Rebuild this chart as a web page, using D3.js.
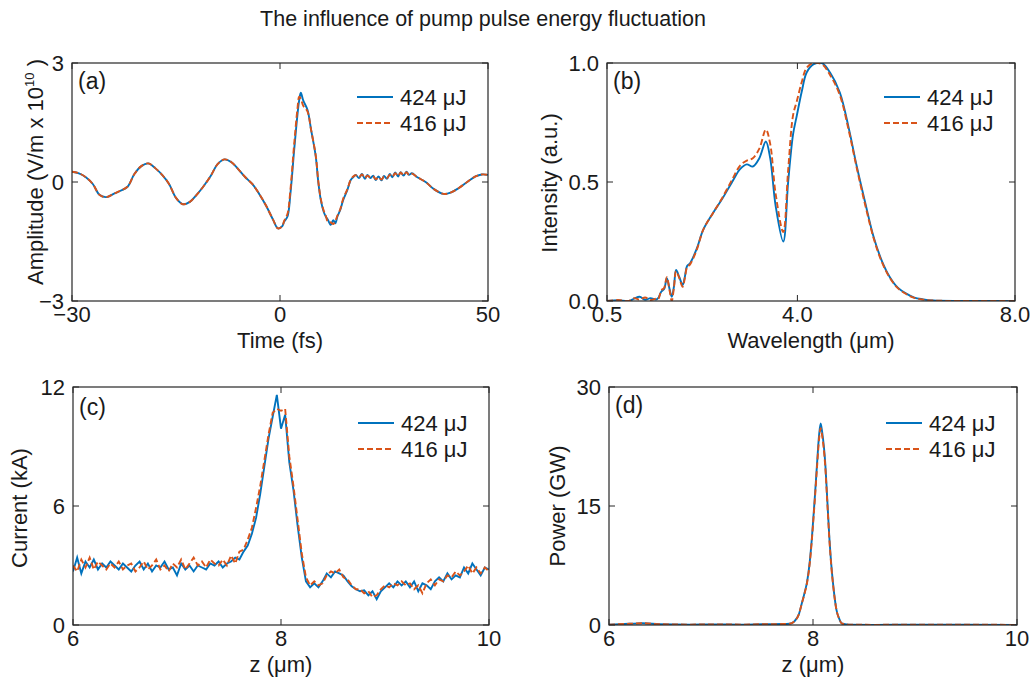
<!DOCTYPE html>
<html>
<head>
<meta charset="utf-8">
<script src="https://cdn.jsdelivr.net/npm/d3@7"></script>
<style>
  body { margin: 0; background: #fff; }
  svg text { font-family: "Liberation Sans", Arial, sans-serif; fill: #1a1a1a; }
</style>
</head>
<body>
<div id="chart"></div>
<script>
// ---- data ----
const seriesNames = ["424 μJ", "416 μJ"];

// (a) electric field
const timeA = [-30, -29, -28, -27, -26, -25, -24, -23, -22, -21, -20, -19, -18, -17, -16, -15, -14, -13, -12, -11,
  -10, -9, -8, -7, -6, -5, -4, -3, -2, -1, -0.3, 0.5, 1, 1.8, 2.5, 3.4, 4.2, 4.6, 5.0, 5.6, 6.6, 7.5, 8.6, 9.2, 9.8,
  10.5, 11.0, 11.5, 12.2, 12.8, 13.3, 13.8, 14.5, 15.2, 16.2, 17.0, 17.6, 18.2, 19, 19.7, 20.4, 21, 21.7, 22.4, 23,
  23.7, 24.4, 25, 25.7, 26.4, 27, 27.7, 28.4, 29, 29.7, 30.4, 31, 31.7, 33, 35, 37, 39.3, 41, 43, 45, 47, 48.5, 50];
const ampA424 = [0.26, 0.22, 0.12, -0.05, -0.33, -0.38, -0.3, -0.22, -0.12, 0.2, 0.4, 0.47, 0.35, 0.18, -0.05, -0.4, -0.56, -0.5, -0.32, -0.1,
  0.15, 0.45, 0.57, 0.5, 0.32, 0.12, -0.05, -0.3, -0.6, -0.95, -1.17, -1.12, -1.0, -0.87, -0.3, 0.8, 1.7, 2.05, 2.25, 2.05, 1.82, 1.3, 0.64, 0.0, -0.45,
  -0.75, -0.87, -0.95, -1.08, -0.96, -1.04, -0.87, -0.7, -0.45, -0.2, 0.05, 0.12, 0.18, 0.1, 0.2, 0.08, 0.18, 0.1, 0.16, 0.05,
  0.14, 0.04, 0.15, 0.08, 0.2, 0.12, 0.24, 0.14, 0.25, 0.16, 0.26, 0.18, 0.22, 0.12, 0.0, -0.18, -0.3, -0.27, -0.15, 0.0, 0.14, 0.19, 0.18];
const ampA416 = [0.26, 0.22, 0.12, -0.05, -0.33, -0.38, -0.3, -0.22, -0.12, 0.2, 0.4, 0.47, 0.35, 0.18, -0.05, -0.4, -0.56, -0.5, -0.32, -0.1,
  0.15, 0.45, 0.57, 0.5, 0.32, 0.12, -0.05, -0.3, -0.6, -0.95, -1.17, -1.12, -0.98, -0.8, -0.2, 0.95, 1.85, 2.15, 2.1, 1.92, 1.78, 1.3, 0.66, 0.02, -0.42,
  -0.72, -0.85, -1.0, -1.02, -1.06, -0.98, -0.85, -0.68, -0.42, -0.18, 0.06, 0.14, 0.17, 0.12, 0.19, 0.1, 0.16, 0.12, 0.14, 0.07,
  0.12, 0.06, 0.14, 0.1, 0.18, 0.13, 0.22, 0.15, 0.24, 0.17, 0.25, 0.18, 0.21, 0.12, 0.0, -0.18, -0.3, -0.27, -0.15, 0.0, 0.14, 0.19, 0.18];

// (b) spectrum
const lambdaB = [0.5, 0.7, 0.9, 1.0, 1.1, 1.2, 1.3, 1.4, 1.44, 1.5, 1.55, 1.6, 1.65, 1.69, 1.73, 1.77, 1.83, 1.89, 1.93, 1.97,
  2.03, 2.15, 2.27, 2.45, 2.61, 2.8, 2.95, 3.07, 3.18, 3.3, 3.42, 3.5, 3.6, 3.74, 3.83, 3.92, 3.99, 4.08, 4.17, 4.3,
  4.45, 4.6, 4.78, 4.95, 5.09, 5.25, 5.4, 5.55, 5.7, 5.85, 6.01, 6.15, 6.31, 6.5, 7.0, 8.0];
const intB424 = [0, 0.003, 0.0, 0.01, 0.018, 0.005, 0.012, 0.006, 0.012, 0.04, 0.05, 0.096, 0.05, 0.018, 0.06, 0.13, 0.1, 0.067, 0.1, 0.146,
  0.16, 0.22, 0.3, 0.37, 0.426, 0.5, 0.555, 0.574, 0.565, 0.6, 0.67, 0.6, 0.4, 0.25, 0.5, 0.7, 0.78, 0.88, 0.96, 0.995,
  1.0, 0.96, 0.876, 0.72, 0.567, 0.41, 0.27, 0.17, 0.1, 0.055, 0.03, 0.014, 0.007, 0.002, 0.0, 0.0];
const intB416 = [0, 0.004, 0.0, 0.012, 0.006, 0.015, 0.004, 0.01, 0.008, 0.045, 0.055, 0.1, 0.045, 0.0, 0.055, 0.125, 0.095, 0.06, 0.095, 0.14,
  0.155, 0.215, 0.3, 0.37, 0.43, 0.51, 0.57, 0.59, 0.6, 0.64, 0.72, 0.66, 0.45, 0.29, 0.55, 0.78, 0.84, 0.92, 0.98, 1.0,
  0.995, 0.95, 0.865, 0.71, 0.56, 0.4, 0.265, 0.165, 0.097, 0.053, 0.028, 0.013, 0.006, 0.002, 0.0, 0.0];

// (c) current, z from 6 to 10 in steps of 0.04
const zC = d3.range(101).map(i => +(6 + i * 0.04).toFixed(2));
const curC424 = [2.7, 3.4, 2.6, 3.2, 2.9, 3.3, 2.8, 3.1, 2.9, 3.2, 3.0, 2.8, 3.1, 2.9, 2.7, 3.0, 3.2, 2.8, 3.1, 2.7,
  3.0, 2.9, 3.2, 2.8, 2.9, 2.5, 3.1, 2.8, 3.0, 2.7, 3.0, 2.9, 2.8, 3.1, 3.0, 3.2, 2.9, 3.1, 3.2, 3.4,
  3.3, 3.7, 4.0, 4.6, 5.4, 6.6, 8.0, 9.4, 10.5, 11.6, 9.9, 10.6, 8.2, 6.8, 5.0, 3.4, 2.2, 1.9, 2.1, 1.9,
  2.2, 2.6, 2.4, 2.7, 2.6, 2.5, 2.2, 1.95, 1.8, 1.7, 1.75, 1.5, 1.7, 1.3, 1.7, 1.9, 2.1, 1.9, 2.2, 2.0,
  2.2, 1.9, 2.2, 1.7, 2.1, 2.0, 1.8, 2.2, 2.4, 2.2, 2.6, 2.3, 2.5, 2.4, 2.9, 2.6, 3.1, 2.8, 2.5, 2.9, 2.8];
const curC416 = [3.0, 2.7, 3.3, 2.9, 3.4, 2.8, 3.2, 3.0, 2.8, 3.1, 2.9, 3.2, 2.8, 3.0, 3.1, 2.7, 2.9, 3.2, 2.8, 3.0,
  3.3, 2.8, 3.0, 2.7, 3.1, 2.9, 3.3, 2.8, 3.1, 3.4, 3.0, 3.2, 2.9, 3.3, 3.1, 3.0, 3.3, 3.0, 3.5, 3.1,
  3.7, 3.8, 4.3, 4.9, 5.9, 7.0, 8.3, 9.6, 10.7, 10.9, 10.8, 10.9, 8.5, 7.0, 5.3, 3.6, 2.4, 2.0, 2.2, 2.0,
  2.1, 2.5, 2.7, 2.6, 2.8, 2.4, 2.3, 2.0, 1.8, 1.8, 1.6, 1.7, 1.4, 1.5, 1.8, 2.0, 1.9, 2.1, 2.0, 2.2,
  2.0, 2.1, 1.8, 2.0, 1.6, 2.1, 2.3, 2.0, 2.3, 2.2, 2.5, 2.4, 2.7, 2.5, 2.7, 3.0, 2.6, 2.9, 2.6, 2.9, 2.7];

// (d) power
const zD = [6.0, 6.2, 6.33, 6.5, 6.8, 7.0, 7.3, 7.5, 7.7, 7.77, 7.82, 7.86, 7.89, 7.92, 7.94, 7.97, 7.99, 8.02, 8.04, 8.06,
  8.075, 8.09, 8.12, 8.14, 8.16, 8.18, 8.2, 8.23, 8.26, 8.28, 8.35, 8.6, 9.0, 9.5, 10.0];
const powD424 = [0.05, 0.15, 0.22, 0.1, 0.05, 0.08, 0.05, 0.1, 0.12, 0.15, 0.5, 1.3, 2.7, 4.2, 5.3, 8.2, 11.1, 16.5, 20.4, 24.0,
  25.4, 24.3, 20.4, 15.8, 11.1, 7.5, 4.8, 1.9, 0.7, 0.2, 0.05, 0.02, 0.05, 0.03, 0.02];
const powD416 = [0.05, 0.15, 0.22, 0.1, 0.05, 0.08, 0.05, 0.1, 0.12, 0.15, 0.5, 1.3, 2.7, 4.1, 5.2, 8.0, 10.9, 16.2, 20.0, 23.5,
  24.8, 23.8, 20.0, 15.5, 10.9, 7.3, 4.7, 1.9, 0.7, 0.2, 0.05, 0.02, 0.05, 0.03, 0.02];

const colors = ["#0072BD", "#D95319"];

// ---- layout ----
const W = 1036, H = 679;
const FS = "22px";
const svg = d3.select("#chart").append("svg")
  .attr("width", W).attr("height", H);

svg.append("text")
  .attr("x", 483).attr("y", 26)
  .attr("text-anchor", "middle")
  .style("font-size", "21.5px")
  .text("The influence of pump pulse energy fluctuation");

const panels = [
  { id: "a", left: 72, top: 63, w: 416, h: 238, x: timeA, ys: [ampA424, ampA416],
    xDomain: [-30, 0, 50], xTicks: [-30, 0, 50], yDomain: [-3, 3], yTicks: [-3, 0, 3],
    xFmt: d3.format("d"), yFmt: d3.format("d"), curve: d3.curveCatmullRom,
    xLabel: "Time (fs)", ylabX: 43, ylabY: 172, legendY: 97, tag: "(a)", tagY: 89 },
  { id: "b", left: 607, top: 63, w: 408, h: 238, x: lambdaB, ys: [intB424, intB416],
    xDomain: [0.5, 8.0], xTicks: [0.5, 4.0, 8.0], yDomain: [0, 1], yTicks: [0, 0.5, 1],
    xFmt: d3.format(".1f"), yFmt: d3.format(".1f"), curve: d3.curveCatmullRom,
    xLabel: "Wavelength (μm)", yLabel: "Intensity (a.u.)", ylabX: 557, ylabY: 183, legendY: 97, tag: "(b)", tagY: 89 },
  { id: "c", left: 73, top: 387, w: 416, h: 238, x: zC, ys: [curC424, curC416],
    xDomain: [6, 10], xTicks: [6, 8, 10], yDomain: [0, 12], yTicks: [0, 6, 12],
    xFmt: d3.format("d"), yFmt: d3.format("d"), curve: d3.curveLinear,
    xLabel: "z (μm)", yLabel: "Current (kA)", ylabX: 27, ylabY: 508, legendY: 423, tag: "(c)", tagY: 415 },
  { id: "d", left: 609, top: 387, w: 408, h: 238, x: zD, ys: [powD424, powD416],
    xDomain: [6, 10], xTicks: [6, 8, 10], yDomain: [0, 30], yTicks: [0, 15, 30],
    xFmt: d3.format("d"), yFmt: d3.format("d"), curve: d3.curveMonotoneX,
    xLabel: "z (μm)", yLabel: "Power (GW)", ylabX: 565, ylabY: 506, legendY: 423, tag: "(d)", tagY: 413 }
];

panels.forEach(p => {
  const g = svg.append("g").attr("transform", `translate(${p.left},${p.top})`);

  const xScale = d3.scaleLinear().domain(p.xDomain)
    .range(p.xDomain.length === 3 ? [0, p.w / 2, p.w] : [0, p.w]);
  const yScale = d3.scaleLinear().domain(p.yDomain).range([p.h, 0]);

  g.append("clipPath").attr("id", "clip-" + p.id)
    .append("rect").attr("width", p.w).attr("height", p.h);

  // lines
  const line = d3.line()
    .x((d, i) => xScale(p.x[i]))
    .y(d => yScale(d))
    .curve(p.curve);

  p.ys.forEach((vals, k) => {
    g.append("path")
      .attr("clip-path", `url(#clip-${p.id})`)
      .attr("d", line(vals))
      .attr("fill", "none")
      .attr("stroke", colors[k])
      .attr("stroke-width", 1.9)
      .attr("stroke-dasharray", k === 1 ? "6,3" : null);
  });

  // frame + ticks (inward, mirrored)
  const frame = "#262626";
  g.append("rect").attr("width", p.w).attr("height", p.h)
    .attr("fill", "none").attr("stroke", frame).attr("stroke-width", 1.2);

  const tl = 6;
  p.xTicks.forEach(t => {
    const x = xScale(t);
    g.append("line").attr("x1", x).attr("x2", x).attr("y1", p.h).attr("y2", p.h - tl).attr("stroke", frame);
    g.append("line").attr("x1", x).attr("x2", x).attr("y1", 0).attr("y2", tl).attr("stroke", frame);
    g.append("text").attr("x", x).attr("y", p.h + 21)
      .attr("text-anchor", "middle").style("font-size", FS).text(p.xFmt(t));
  });
  p.yTicks.forEach(t => {
    const y = yScale(t);
    g.append("line").attr("x1", 0).attr("x2", tl).attr("y1", y).attr("y2", y).attr("stroke", frame);
    g.append("line").attr("x1", p.w).attr("x2", p.w - tl).attr("y1", y).attr("y2", y).attr("stroke", frame);
    g.append("text").attr("x", -8).attr("y", y + 7.5)
      .attr("text-anchor", "end").style("font-size", FS).text(p.yFmt(t));
  });

  // axis titles
  g.append("text").attr("x", p.w / 2).attr("y", p.h + 47)
    .attr("text-anchor", "middle").style("font-size", FS).text(p.xLabel);

  const yl = svg.append("text")
    .attr("transform", `translate(${p.ylabX},${p.ylabY}) rotate(-90)`)
    .attr("text-anchor", "middle").style("font-size", FS);
  if (p.id === "a") {
    yl.append("tspan").text("Amplitude (V/m x 10");
    yl.append("tspan").attr("dy", -9).style("font-size", "13px").text("10");
    yl.append("tspan").attr("dy", 9).text(" )");
  } else {
    yl.text(p.yLabel);
  }

  // panel tag
  svg.append("text").attr("x", p.left + 6).attr("y", p.tagY)
    .style("font-size", "23px").text(p.tag);

  // legend
  const lg = svg.append("g").attr("transform", `translate(${p.left + p.w - 131},${p.legendY})`);
  seriesNames.forEach((name, k) => {
    const row = lg.append("g").attr("transform", `translate(0,${k * 26})`);
    row.append("line").attr("x1", 0).attr("x2", 36)
      .attr("stroke", colors[k]).attr("stroke-width", 1.9)
      .attr("stroke-dasharray", k === 1 ? "6,3" : null);
    row.append("text").attr("x", 43).attr("y", 7.5)
      .style("font-size", FS).text(name);
  });
});
</script>
</body>
</html>
